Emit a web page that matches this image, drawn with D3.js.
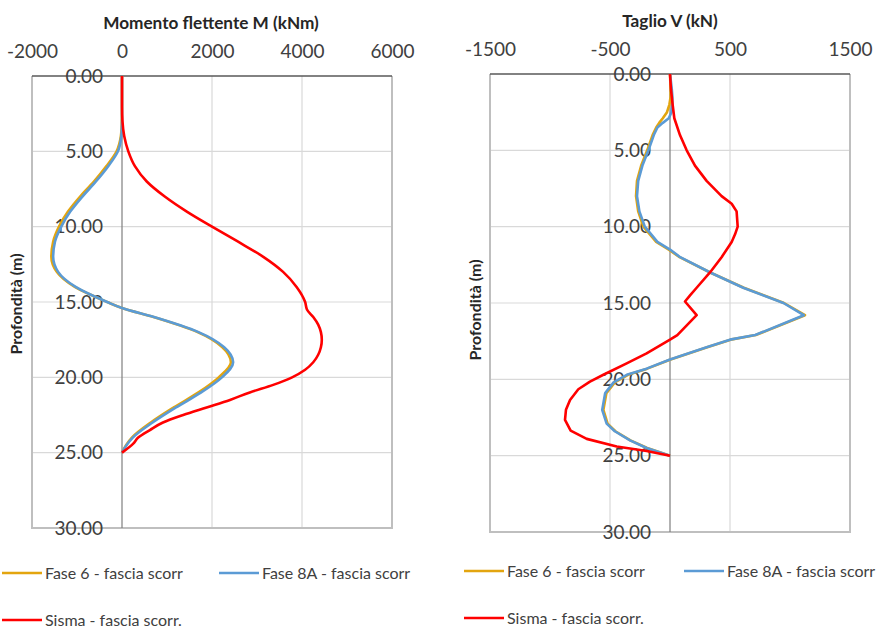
<!DOCTYPE html>
<html>
<head>
<meta charset="utf-8">
<script src="https://cdn.jsdelivr.net/npm/d3@7/dist/d3.min.js"></script>
<style>
  html, body { margin: 0; padding: 0; background: #fff; }
  svg { display: block; font-family: Lato, "Open Sans", sans-serif; }
</style>
</head>
<body>
<svg id="chart" width="877" height="630"></svg>
<script>
// ---- Bending moment M (kNm) along depth ----
const momentTicks = [-2000, 0, 2000, 4000, 6000];
const depthMomentFasi = [0, 1, 2, 3, 3.5, 4, 5, 6, 7, 8, 9, 10, 11, 12, 13, 14, 15, 15.4, 16, 17, 18, 19, 20, 21, 22, 23, 24, 24.5, 25];
const momentFase6 = [0, 0, 0, -5, -10, -25, -120, -350, -620, -930, -1200, -1400, -1530, -1570, -1450, -1050, -330, 0, 700, 1680, 2230, 2420, 2150, 1700, 1150, 640, 220, 90, 0];
const momentFase8A = [0, 0, 0, 0, -5, -15, -90, -310, -580, -880, -1150, -1350, -1490, -1530, -1420, -1030, -330, 0, 710, 1700, 2270, 2470, 2220, 1760, 1200, 680, 240, 100, 0];
const depthMomentSisma = [0, 1, 2, 3, 4, 5, 6, 7, 8, 9, 10, 11, 12, 13, 14, 15, 15.5, 16, 16.5, 17, 17.5, 18, 18.5, 19, 19.5, 20, 20.5, 21, 21.5, 22, 22.5, 23, 23.5, 24, 24.4, 25];
const momentSisma = [0, 0, 0, 10, 50, 140, 290, 550, 950, 1440, 2000, 2580, 3140, 3580, 3880, 4070, 4110, 4250, 4360, 4420, 4440, 4420, 4360, 4250, 4070, 3780, 3360, 2840, 2400, 1880, 1360, 910, 620, 360, 250, 0];

// ---- Shear V (kN) along depth ----
const shearTicks = [-1500, -500, 500, 1500];
const depthShearFasi = [0, 1, 1.5, 2, 2.5, 2.9, 3.2, 3.5, 4, 5, 6, 7, 8, 9, 10, 11, 11.5, 12, 13, 14, 15, 15.8, 17.1, 17.4, 17.9, 18.7, 19.3, 19.7, 20.2, 20.9, 22, 22.9, 23.4, 24, 24.5, 25];
const shearFase6 = [0, 5, 5, -5, -25, -60, -90, -115, -145, -190, -240, -275, -283, -265, -222, -115, -10, 80, 335, 615, 950, 1125, 715, 505, 310, 5, -190, -350, -460, -530, -555, -520, -455, -330, -190, 0];
const shearFase8A = [0, 15, 20, 20, 12, -10, -60, -105, -135, -180, -230, -265, -275, -255, -210, -105, 0, 85, 335, 610, 945, 1115, 710, 500, 305, 0, -195, -360, -470, -540, -565, -528, -460, -333, -195, 0];
const depthShearSisma = [0, 1, 2, 2.9, 4, 5, 6, 7, 8, 8.5, 9, 10, 10.5, 11, 12, 13, 14, 14.5, 14.9, 15.8, 17.1, 17.4, 18.3, 18.95, 19.7, 20.15, 20.65, 21.35, 22, 22.66, 23.36, 23.9, 24.4, 24.7, 25];
const shearSisma = [0, 8, 22, 36, 83, 139, 208, 305, 430, 514, 555, 564, 542, 514, 430, 333, 222, 167, 125, 222, 61, 0, -195, -361, -555, -667, -764, -833, -867, -875, -828, -694, -444, -195, 0];

const depthTicks = [0, 5, 10, 15, 20, 25, 30];

const colors = { fase6: "#E3A50F", fase8A: "#5B9BD5", sisma: "#FF0000" };
const seriesNames = { fase6: "Fase 6 - fascia scorr", fase8A: "Fase 8A - fascia scorr", sisma: "Sisma - fascia scorr." };

const svg = d3.select("#chart");

function drawPanel(cfg) {
  const x = d3.scaleLinear().domain(cfg.xDomain).range([cfg.left, cfg.right]);
  const y = d3.scaleLinear().domain([0, 30]).range([cfg.top, cfg.bottom]);
  const g = svg.append("g");

  // grid
  g.append("g").selectAll("line").data(depthTicks.slice(1, -1)).join("line")
    .attr("x1", cfg.left).attr("x2", cfg.right)
    .attr("y1", d => y(d)).attr("y2", d => y(d))
    .attr("stroke", "#d9d9d9").attr("stroke-width", 1.2);
  g.append("g").selectAll("line").data(cfg.grid).join("line")
    .attr("x1", d => x(d)).attr("x2", d => x(d))
    .attr("y1", cfg.top).attr("y2", cfg.bottom)
    .attr("stroke", "#d9d9d9").attr("stroke-width", 1.2);

  // plot frame (left, right, bottom)
  g.append("path")
    .attr("d", `M${cfg.left},${cfg.top}V${cfg.bottom}H${cfg.right}V${cfg.top}`)
    .attr("fill", "none").attr("stroke", "#bfbfbf").attr("stroke-width", 2);

  // vertical axis at value 0
  g.append("line")
    .attr("x1", x(0)).attr("x2", x(0)).attr("y1", cfg.top).attr("y2", cfg.bottom)
    .attr("stroke", "#7f7f7f").attr("stroke-width", 1.2);

  // top value axis
  const xAxis = d3.axisTop(x).tickValues(cfg.ticks).tickSize(0).tickPadding(0).tickFormat(d => String(d));
  const xa = g.append("g").attr("transform", `translate(0,${cfg.tickY})`).call(xAxis);
  xa.select(".domain").remove();
  xa.selectAll("text").attr("font-size", 19).attr("fill", "#404040")
    .attr("font-family", "Lato, sans-serif");
  g.append("line")
    .attr("x1", cfg.left).attr("x2", cfg.right).attr("y1", cfg.top).attr("y2", cfg.top)
    .attr("stroke", "#595959").attr("stroke-width", 1.5);

  // depth labels next to the zero axis
  const yAxis = d3.axisLeft(y).tickValues(depthTicks).tickSize(0).tickPadding(19).tickFormat(d3.format(".2f"));
  const ya = g.append("g").attr("transform", `translate(${x(0)},0)`).call(yAxis);
  ya.select(".domain").remove();
  ya.selectAll("text").attr("font-size", 19).attr("fill", "#404040")
    .attr("font-family", "Lato, sans-serif");

  // titles
  g.append("text").attr("x", cfg.titleX).attr("y", cfg.titleY)
    .attr("text-anchor", "middle").attr("font-weight", "bold").attr("font-size", 17.2)
    .attr("fill", "#262626").text(cfg.title);
  g.append("text")
    .attr("transform", `translate(${cfg.yTitleX},${cfg.yTitleY}) rotate(-90)`)
    .attr("text-anchor", "middle").attr("font-weight", "bold").attr("font-size", 16)
    .attr("fill", "#262626").text("Profondità (m)");

  // series
  const clip = "clip-" + cfg.id;
  svg.append("clipPath").attr("id", clip).append("rect")
    .attr("x", cfg.left).attr("y", cfg.top - 2).attr("width", cfg.right - cfg.left).attr("height", cfg.bottom - cfg.top + 2);
  const line = d3.line().x(d => x(d[1])).y(d => y(d[0])).curve(cfg.curve);
  const lines = g.append("g").attr("clip-path", `url(#${clip})`);
  cfg.series.forEach(s => {
    lines.append("path")
      .datum(d3.zip(s.depth, s.values))
      .attr("d", line)
      .attr("fill", "none")
      .attr("stroke", colors[s.key])
      .attr("stroke-width", 2.6)
      .attr("stroke-linejoin", "round");
  });

  // legend
  const lg = g.append("g");
  cfg.legend.forEach(item => {
    lg.append("line")
      .attr("x1", item.x).attr("x2", item.x + 40).attr("y1", item.y).attr("y2", item.y)
      .attr("stroke", colors[item.key]).attr("stroke-width", 2.6);
    lg.append("text").attr("x", item.x + 43).attr("y", item.y).attr("dy", "0.35em")
      .attr("font-size", 16).attr("fill", "#404040").text(seriesNames[item.key]);
  });
}

drawPanel({
  id: "moment",
  xDomain: [-2000, 6000], left: 32, right: 392, top: 76, bottom: 528,
  ticks: momentTicks, grid: [2000, 4000], tickY: 58,
  title: "Momento flettente M (kNm)", titleX: 211, titleY: 29,
  yTitleX: 22, yTitleY: 304,
  curve: d3.curveMonotoneY,
  series: [
    { key: "fase6", depth: depthMomentFasi, values: momentFase6 },
    { key: "fase8A", depth: depthMomentFasi, values: momentFase8A },
    { key: "sisma", depth: depthMomentSisma, values: momentSisma }
  ],
  legend: [
    { key: "fase6", x: 2, y: 573 },
    { key: "fase8A", x: 219, y: 573 },
    { key: "sisma", x: 2, y: 620 }
  ]
});

drawPanel({
  id: "shear",
  xDomain: [-1500, 1500], left: 490, right: 850, top: 74, bottom: 532,
  ticks: shearTicks, grid: [-500, 500], tickY: 56,
  title: "Taglio V (kN)", titleX: 670, titleY: 27,
  yTitleX: 481, yTitleY: 310,
  curve: d3.curveLinear,
  series: [
    { key: "fase6", depth: depthShearFasi, values: shearFase6 },
    { key: "fase8A", depth: depthShearFasi, values: shearFase8A },
    { key: "sisma", depth: depthShearSisma, values: shearSisma }
  ],
  legend: [
    { key: "fase6", x: 464, y: 571 },
    { key: "fase8A", x: 684, y: 571 },
    { key: "sisma", x: 464, y: 618 }
  ]
});
</script>
</body>
</html>
